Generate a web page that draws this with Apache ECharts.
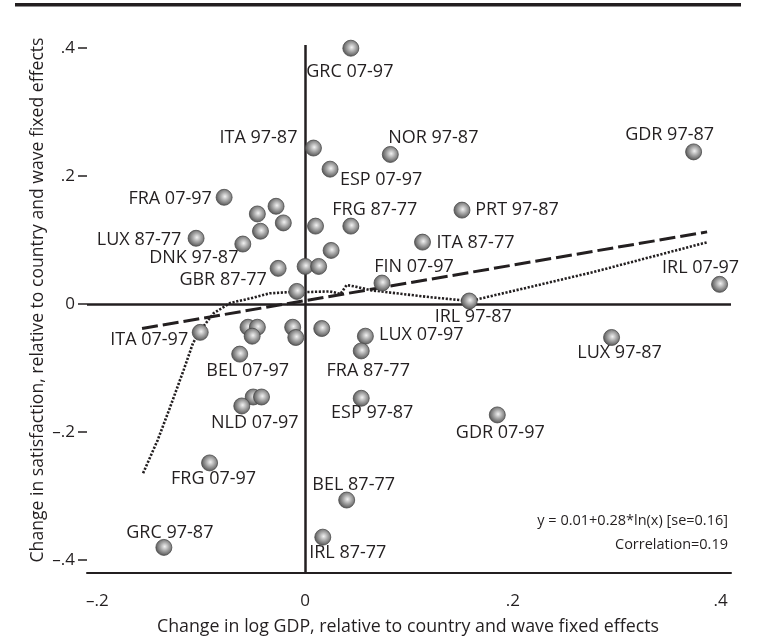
<!DOCTYPE html>
<html>
<head>
<meta charset="utf-8">
<script src="https://cdn.jsdelivr.net/npm/echarts@6/dist/echarts.min.js"></script>
<style>
  html, body { margin: 0; padding: 0; background: #fff; }
  #chart { width: 757px; height: 638px; }
</style>
</head>
<body>
<div id="chart"></div>
<script>
// Country-period observations: change in log GDP vs change in life satisfaction
const pointNames = [
  'GRC 07-97', 'ITA 97-87', 'NOR 97-87', 'GDR 97-87', 'ESP 07-97', 'FRA 07-97', '', 'PRT 97-87',
  '', '', '', 'FRG 87-77', '', 'LUX 87-77', 'ITA 87-77', 'DNK 97-87', '', '', 'GBR 87-77', '',
  'FIN 07-97', 'IRL 07-97', '', 'IRL 97-87', '', '', '', '', 'ITA 07-97', '', '', 'LUX 07-97',
  'LUX 97-87', 'FRA 87-77', 'BEL 07-97', '', '', 'ESP 97-87', 'NLD 07-97', 'GDR 07-97',
  'FRG 07-97', 'BEL 87-77', 'IRL 87-77', 'GRC 97-87'
];
const gdpChange = [
  0.044, 0.008, 0.082, 0.374, 0.024, -0.078, -0.028, 0.151,
  -0.046, -0.021, 0.010, 0.044, -0.043, -0.105, 0.113, -0.060, 0.000, 0.013, -0.026, 0.025,
  0.074, 0.399, -0.008, 0.158, -0.055, -0.046, -0.012, 0.016, -0.101, -0.051, -0.009, 0.058,
  0.295, 0.054, -0.063, -0.050, -0.042, 0.054, -0.061, 0.185,
  -0.092, 0.040, 0.017, -0.136
];
const satChange = [
  0.400, 0.244, 0.234, 0.238, 0.211, 0.167, 0.153, 0.147,
  0.141, 0.127, 0.122, 0.122, 0.114, 0.103, 0.097, 0.094, 0.059, 0.059, 0.056, 0.084,
  0.033, 0.031, 0.020, 0.005, -0.036, -0.036, -0.036, -0.038, -0.044, -0.050, -0.052, -0.050,
  -0.052, -0.073, -0.078, -0.145, -0.145, -0.147, -0.159, -0.173,
  -0.248, -0.306, -0.364, -0.380
];

// Linear fit (dashed)
const fitX = [-0.157, 0.387];
const fitY = [-0.038, 0.113];

// Local smoother (dotted)
const smoothX = [-0.156, -0.142, -0.130, -0.117, -0.108, -0.101, -0.088, -0.072, -0.053, -0.034,
  -0.014, 0.002, 0.024, 0.034, 0.040, 0.050, 0.0625, 0.088, 0.120, 0.152, 0.159, 0.277, 0.3875];
const smoothY = [-0.264, -0.2125, -0.161, -0.103, -0.061, -0.041, -0.014, 0.002, 0.009, 0.017,
  0.019, 0.019, 0.020, 0.016, 0.030, 0.027, 0.022, 0.017, 0.011, 0.006, 0.005, 0.050, 0.097];

// Tick values
const xTicks = [-0.2, 0, 0.2, 0.4];
const yTicks = [-0.4, -0.2, 0, 0.2, 0.4];

// Label placement relative to each marker centre (px)
const labelOffsets = {
  'GRC 07-97': [-1, 24], 'ITA 97-87': [-55, -10], 'NOR 97-87': [43, -17], 'GDR 97-87': [-24, -17],
  'ESP 07-97': [51, 11], 'FRA 07-97': [-54, 2], 'PRT 97-87': [55, 0], 'FRG 87-77': [24, -16],
  'LUX 87-77': [-57, 2], 'ITA 87-77': [53, 1], 'DNK 97-87': [-49, 14], 'GBR 87-77': [-55, 12],
  'FIN 07-97': [32, -16], 'IRL 07-97': [-19, -16], 'IRL 97-87': [4, 16], 'ITA 07-97': [-51, 8],
  'LUX 07-97': [56, -1], 'LUX 97-87': [8, 15], 'FRA 87-77': [7, 20], 'BEL 07-97': [8, 17],
  'ESP 97-87': [11, 15], 'NLD 07-97': [13, 17], 'GDR 07-97': [3, 18], 'FRG 07-97': [4, 16],
  'BEL 87-77': [7, -15], 'IRL 87-77': [25, 16], 'GRC 97-87': [6, -15]
};

const INK = '#231f20';
const FONT = '"Open Sans", "DejaVu Sans", sans-serif';

function tickText(v) {
  if (Math.abs(v) < 1e-9) return '0';
  const s = Math.abs(v).toFixed(1).replace(/^0/, '');
  return (v < 0 ? '\u2013' : '') + s;
}

const pointData = pointNames.map((name, i) => {
  const item = { name: name, value: [gdpChange[i], satChange[i]] };
  if (name) {
    item.label = { show: true, offset: labelOffsets[name] || [0, 16] };
  }
  return item;
});

const ballStyle = {
  color: {
    type: 'radial', x: 0.55, y: 0.45, r: 0.6,
    colorStops: [
      { offset: 0, color: '#f2f2f2' },
      { offset: 0.45, color: '#a3a3a3' },
      { offset: 1, color: '#474747' }
    ]
  },
  borderColor: '#4a4a4a',
  borderWidth: 0.8,
  opacity: 1
};

const chart = echarts.init(document.getElementById('chart'), null, { renderer: 'canvas' });

chart.setOption({
  backgroundColor: '#fff',
  animation: false,
  grid: { left: 87, right: 26, top: 45, bottom: 65, containLabel: false },
  xAxis: {
    type: 'value', min: -0.21, max: 0.41,
    splitLine: { show: false },
    axisLine: { show: true, onZero: false, lineStyle: { color: INK, width: 2 } },
    axisTick: { show: false },
    axisLabel: {
      customValues: xTicks, formatter: tickText, margin: 20,
      color: INK, fontFamily: FONT, fontSize: 17
    }
  },
  yAxis: {
    type: 'value', min: -0.42, max: 0.405,
    splitLine: { show: false },
    axisLine: { show: false, onZero: false },
    axisTick: {
      show: true, customValues: yTicks, length: 9, inside: false,
      lineStyle: { color: INK, width: 1.5 }
    },
    axisLabel: {
      customValues: yTicks, formatter: tickText, margin: 12,
      color: INK, fontFamily: FONT, fontSize: 17
    }
  },
  series: [
    {
      type: 'line',
      data: fitX.map((x, i) => [x, fitY[i]]),
      showSymbol: false,
      lineStyle: { color: INK, width: 3, type: [16, 5] },
      z: 2,
      markLine: {
        silent: true, symbol: 'none', label: { show: false },
        lineStyle: { color: INK, width: 2.5, type: 'solid' },
        data: [{ xAxis: 0 }, { yAxis: 0 }]
      }
    },
    {
      type: 'line',
      data: smoothX.map((x, i) => [x, smoothY[i]]),
      showSymbol: false,
      lineStyle: { color: INK, width: 2.6, type: [2.2, 1.6] },
      z: 2
    },
    {
      type: 'scatter',
      data: pointData,
      symbol: 'circle',
      symbolSize: 16,
      itemStyle: ballStyle,
      label: {
        show: false, position: 'inside', formatter: '{b}',
        color: INK, fontFamily: FONT, fontSize: 18,
        align: 'center', verticalAlign: 'middle'
      },
      emphasis: { disabled: true },
      z: 5
    }
  ],
  graphic: [
    { type: 'rect', shape: { x: 15, y: 3, width: 726, height: 3.5 }, style: { fill: INK } },
    {
      type: 'text', x: 408, y: 627,
      style: {
        text: 'Change in log GDP, relative to country and wave fixed effects',
        fill: INK, font: '17.8px ' + FONT, textAlign: 'center', textVerticalAlign: 'middle'
      }
    },
    {
      type: 'text', x: 38, y: 300, rotation: Math.PI / 2,
      style: {
        text: 'Change in satisfaction, relative to country and wave fixed effects',
        fill: INK, font: '17.6px ' + FONT, textAlign: 'center', textVerticalAlign: 'middle'
      }
    },
    {
      type: 'text', x: 728, y: 521,
      style: {
        text: 'y = 0.01+0.28*ln(x) [se=0.16]',
        fill: INK, font: '14.5px ' + FONT, textAlign: 'right', textVerticalAlign: 'middle'
      }
    },
    {
      type: 'text', x: 728, y: 545,
      style: {
        text: 'Correlation=0.19',
        fill: INK, font: '14.5px ' + FONT, textAlign: 'right', textVerticalAlign: 'middle'
      }
    }
  ]
});
</script>
</body>
</html>
